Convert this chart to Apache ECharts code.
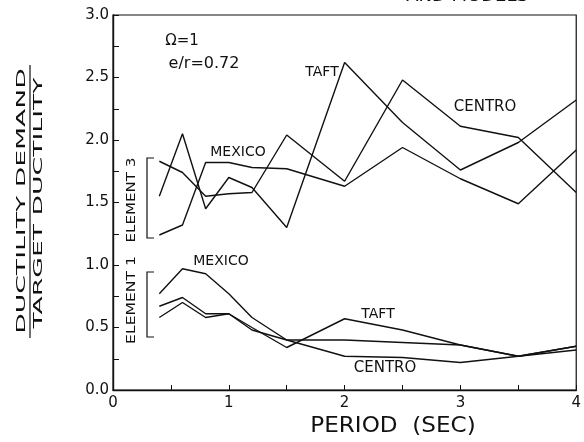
<!DOCTYPE html>
<html>
<head>
<meta charset="utf-8">
<script src="https://cdn.jsdelivr.net/npm/echarts@6/dist/echarts.min.js"></script>
<style>
  html, body { margin: 0; padding: 0; background: #fff; }
  #chart { width: 584px; height: 442px; }
</style>
</head>
<body>
<div id="chart"></div>
<script>
// periods (sec)
var periods = [0.4, 0.6, 0.8, 1.0, 1.2, 1.5, 2.0, 2.5, 3.0, 3.5, 4.0];

// element 3
var taft3   = [1.55, 2.05, 1.45, 1.70, 1.62, 1.30, 2.62, 2.14, 1.76, 1.98, 2.32];
var centro3 = [1.83, 1.74, 1.55, 1.57, 1.58, 2.04, 1.67, 2.48, 2.11, 2.02, 1.58];
var mexico3 = [1.24, 1.32, 1.82, 1.82, 1.78, 1.77, 1.63, 1.94, 1.69, 1.49, 1.92];

// element 1
var mexico1 = [0.77, 0.97, 0.93, 0.77, 0.58, 0.40, 0.40, 0.38, 0.36, 0.27, 0.32];
var taft1   = [0.67, 0.74, 0.61, 0.61, 0.50, 0.34, 0.57, 0.48, 0.36, 0.27, 0.35];
var centro1 = [0.58, 0.70, 0.58, 0.61, 0.48, 0.40, 0.27, 0.26, 0.22, 0.27, 0.35];

var FONT = 'DejaVu Sans';
var INK = '#111';

function pairs(vals) {
  var out = [];
  for (var i = 0; i < periods.length; i++) out.push([periods[i], vals[i]]);
  return out;
}

function line(name, vals) {
  return {
    name: name,
    type: 'line',
    data: pairs(vals),
    symbol: 'none',
    lineStyle: { color: INK, width: 1.4 },
    animation: false
  };
}

function txt(s, x, y, size, extra) {
  var el = {
    type: 'text',
    x: x, y: y,
    style: {
      text: s, fill: INK, font: size + 'px "' + FONT + '"',
      textAlign: 'center', textVerticalAlign: 'middle'
    }
  };
  for (var k in extra) el[k] = extra[k];
  return el;
}

var chart = echarts.init(document.getElementById('chart'));

var option = {
  backgroundColor: '#fff',
  animation: false,
  grid: {
    left: 113, right: 3, top: 15, bottom: 52,
    show: true, borderColor: INK, borderWidth: 1.2
  },
  xAxis: {
    type: 'value', min: 0, max: 4, interval: 1,
    axisLine: { show: true, lineStyle: { color: INK, width: 1.4 } },
    axisTick: { show: true, inside: true, length: 5, lineStyle: { color: INK } },
    minorTick: { show: true, splitNumber: 2, length: 5, lineStyle: { color: INK } },
    splitLine: { show: false },
    axisLabel: { color: INK, fontFamily: FONT, fontSize: 15, margin: 6 }
  },
  yAxis: {
    type: 'value', min: 0, max: 3, interval: 0.5,
    axisLine: { show: true, lineStyle: { color: INK, width: 1.4 } },
    axisTick: { show: true, inside: true, length: 6, lineStyle: { color: INK } },
    minorTick: { show: true, splitNumber: 2, length: 6, lineStyle: { color: INK } },
    splitLine: { show: false },
    axisLabel: {
      color: INK, fontFamily: FONT, fontSize: 15, margin: 4,
      formatter: function(v) { return v.toFixed(1); }
    }
  },
  series: [
    line('TAFT (element 3)', taft3),
    line('CENTRO (element 3)', centro3),
    line('MEXICO (element 3)', mexico3),
    line('MEXICO (element 1)', mexico1),
    line('TAFT (element 1)', taft1),
    line('CENTRO (element 1)', centro1)
  ],
  graphic: [
    // clipped heading at the top edge
    txt('AND MODELS', 467, -3, 15, { scaleX: 1.2 }),

    // y axis title (fraction), stretched along the reading direction
    txt('DUCTILITY DEMAND', 22, 201, 13, { rotation: Math.PI / 2, scaleX: 2.05 }),
    txt('TARGET DUCTILITY', 38.5, 203, 13, { rotation: Math.PI / 2, scaleX: 2.05 }),
    { type: 'line', shape: { x1: 30, y1: 65, x2: 30, y2: 338 }, style: { stroke: INK, lineWidth: 1.2 } },

    // x axis title
    txt('PERIOD  (SEC)', 393, 427, 21, { scaleX: 1.1 }),

    // parameters
    txt('\u03A9=1', 182, 41, 15),
    txt('e/r=0.72', 204, 64, 16),

    // curve labels
    txt('TAFT', 322, 72, 14),
    txt('CENTRO', 485, 107, 15),
    txt('MEXICO', 238, 152, 14),
    txt('MEXICO', 221, 261, 14),
    txt('TAFT', 378, 314, 14),
    txt('CENTRO', 385, 368, 15),

    // element brackets
    txt('ELEMENT 3', 132, 200, 13, { rotation: Math.PI / 2, scaleX: 1.16 }),
    { type: 'polyline', shape: { points: [[154, 158], [147, 158], [147, 238], [154, 238]] },
      style: { stroke: INK, lineWidth: 1.2, fill: null } },
    txt('ELEMENT 1', 132, 300, 13, { rotation: Math.PI / 2, scaleX: 1.2 }),
    { type: 'polyline', shape: { points: [[154, 272], [147, 272], [147, 337], [154, 337]] },
      style: { stroke: INK, lineWidth: 1.2, fill: null } }
  ]
};

chart.setOption(option);
</script>
</body>
</html>
